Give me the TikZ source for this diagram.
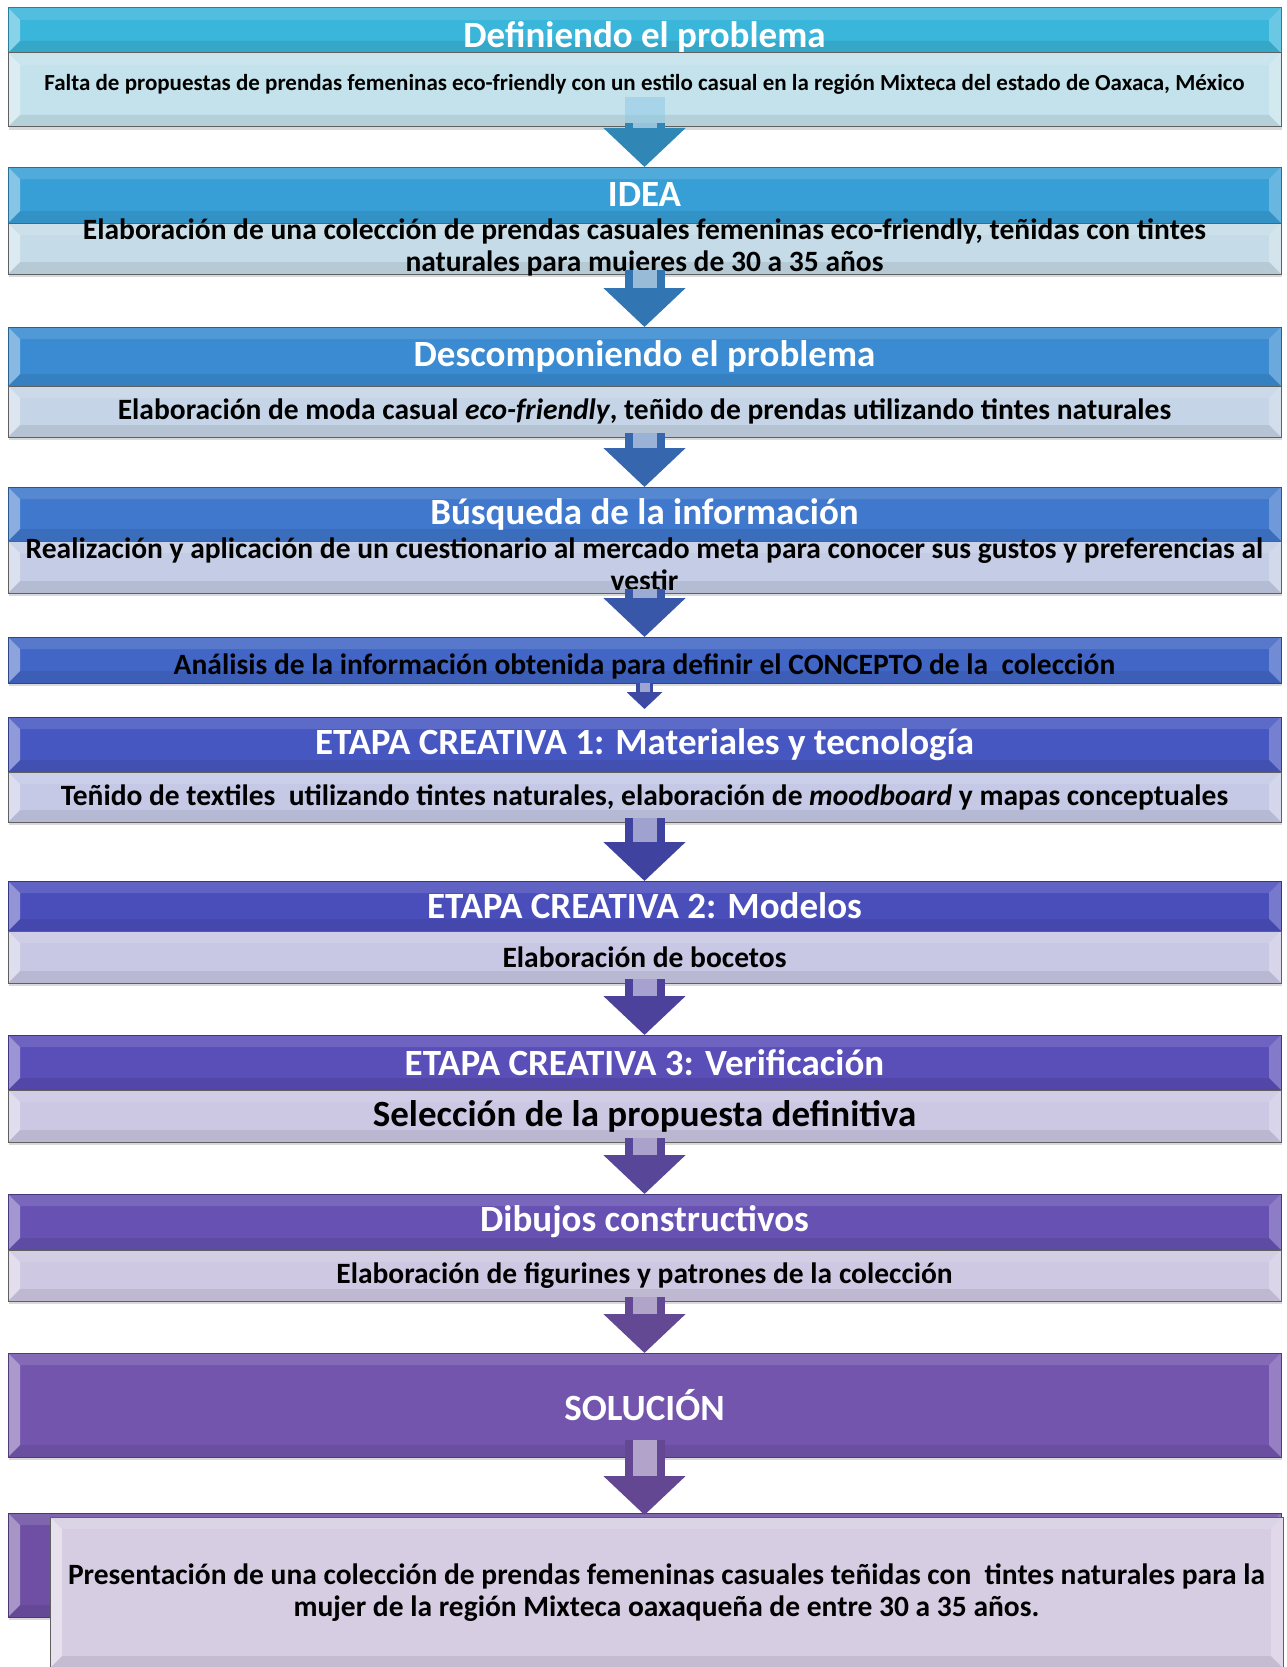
\documentclass[tikz,border=0pt]{standalone}
\usepackage{fontspec}
\setmainfont{Carlito}
\usetikzlibrary{positioning,arrows.meta,shadows}

\definecolor{tono1}{HTML}{3AB6DB}
\definecolor{tono2}{HTML}{389FD6}
\definecolor{tono3}{HTML}{3A8BD1}
\definecolor{tono4}{HTML}{3F78CC}
\definecolor{tono5}{HTML}{4266C6}
\definecolor{tono6}{HTML}{4757C1}
\definecolor{tono7}{HTML}{4A4EBB}
\definecolor{tono8}{HTML}{5A4EB8}
\definecolor{tono9}{HTML}{6752B3}
\definecolor{tono10}{HTML}{7455AE}
\definecolor{tono11}{HTML}{6E4FA3}
\definecolor{claro1}{HTML}{C4E2EC}
\definecolor{claro2}{HTML}{C5DCE8}
\definecolor{claro3}{HTML}{C5D4E6}
\definecolor{claro4}{HTML}{C4CDE5}
\definecolor{claro6}{HTML}{C6C9E6}
\definecolor{claro7}{HTML}{C9C8E4}
\definecolor{claro8}{HTML}{CCC7E3}
\definecolor{claro9}{HTML}{CFC8E2}
\definecolor{claro11}{HTML}{D7CDE3}

\tikzset{
  bisel/.style={path picture={
    \fill[white,opacity=.4] (path picture bounding box.north west) -- ([shift={(12pt,-12pt)}]path picture bounding box.north west) -- ([shift={(12pt,12pt)}]path picture bounding box.south west) -- (path picture bounding box.south west) -- cycle;
    \fill[white,opacity=.12] (path picture bounding box.north west) -- (path picture bounding box.north east) -- ([shift={(-12pt,-12pt)}]path picture bounding box.north east) -- ([shift={(12pt,-12pt)}]path picture bounding box.north west) -- cycle;
    \fill[white,opacity=.25] (path picture bounding box.north east) -- ([shift={(-12pt,-12pt)}]path picture bounding box.north east) -- ([shift={(-12pt,12pt)}]path picture bounding box.south east) -- (path picture bounding box.south east) -- cycle;
    \fill[black,opacity=.08] (path picture bounding box.south west) -- ([shift={(12pt,12pt)}]path picture bounding box.south west) -- ([shift={(-12pt,12pt)}]path picture bounding box.south east) -- (path picture bounding box.south east) -- cycle;
  }},
  cabeza/.style={rectangle, draw=#1!70!black, line width=1pt, fill=#1, bisel,
    minimum width=1273pt, inner sep=0pt, outer sep=0pt, text=white,
    font=\bfseries\fontsize{37}{42}\selectfont,
    drop shadow={shadow xshift=1pt, shadow yshift=-3pt, opacity=.3}},
  cuerpo/.style={rectangle, draw=gray!75!black, line width=1pt, fill=#1, bisel,
    minimum width=1273pt, inner sep=0pt, outer sep=0pt, text=black,
    font=\bfseries\fontsize{29.5}{32}\selectfont,
    drop shadow={shadow xshift=1pt, shadow yshift=-3pt, opacity=.3}},
  flecha/.style={line width=40pt, draw=#1, -{Triangle[width=80pt,length=39pt]},
    postaction={draw=#1!50!white, line width=24pt, -, shorten >=39pt}},
  flechita/.style={line width=17pt, draw=#1, -{Triangle[width=35pt,length=17pt]},
    postaction={draw=#1!50!white, line width=10pt, -, shorten >=17pt}}
}

\begin{document}
\begin{tikzpicture}[x=1pt, y=-1pt]
  \useasboundingbox (0,0) rectangle (1287,1667);

  \node (DEF) [cabeza=tono1, minimum height=45pt, anchor=north] at (644.5,8) {\smash{\raisebox{-17pt}{Definiendo el problema}}};
  \node (DEFt) [cuerpo=claro1, minimum height=74pt, below=0pt of DEF, font=\bfseries\fontsize{23}{27}\selectfont]
    {\raisebox{16pt}{Falta de propuestas de prendas femeninas eco-friendly con un estilo casual en la región Mixteca del estado de Oaxaca, México}};

  \node (IDEA) [cabeza=tono2, minimum height=56pt, below=40pt of DEFt] {IDEA};
  \node (IDEAt) [cuerpo=claro2, minimum height=51pt, below=0pt of IDEA]
    {\smash{\raisebox{-7pt}{\begin{tabular}{@{}c@{}}Elaboración de una colección de prendas casuales femeninas eco-friendly, teñidas con tintes\\naturales para mujeres de 30 a 35 años\end{tabular}}}};

  \node (DESC) [cabeza=tono3, minimum height=59pt, below=53pt of IDEAt] {Descomponiendo el problema};
  \node (DESCt) [cuerpo=claro3, minimum height=51pt, below=0pt of DESC]
    {Elaboración de moda casual \textit{eco-friendly}, teñido de prendas utilizando tintes naturales};

  \node (BUSQ) [cabeza=tono4, minimum height=54pt, below=50pt of DESCt] {Búsqueda de la información};
  \node (BUSQt) [cuerpo=claro4, minimum height=52pt, below=0pt of BUSQ]
    {\smash{\raisebox{-7pt}{\begin{tabular}{@{}c@{}}Realización y aplicación de un cuestionario al mercado meta para conocer sus gustos y preferencias al\\vestir\end{tabular}}}};

  \node (ANA) [cabeza=tono5, minimum height=46pt, below=44pt of BUSQt, text=black,
    font=\bfseries\fontsize{29.5}{32}\selectfont]
    {\smash{\raisebox{-14pt}{Análisis de la información obtenida para definir el CONCEPTO de la\ \ colección}}};

  \node (EC1) [cabeza=tono6, minimum height=55pt, below=34pt of ANA] {ETAPA CREATIVA 1: Materiales y tecnología};
  \node (EC1t) [cuerpo=claro6, minimum height=50pt, below=0pt of EC1]
    {Teñido de textiles\ \ utilizando tintes naturales, elaboración de \textit{moodboard} y mapas conceptuales};

  \node (EC2) [cabeza=tono7, minimum height=50pt, below=59pt of EC1t] {ETAPA CREATIVA 2: Modelos};
  \node (EC2t) [cuerpo=claro7, minimum height=52pt, below=0pt of EC2] {Elaboración de bocetos};

  \node (EC3) [cabeza=tono8, minimum height=55pt, below=52pt of EC2t] {ETAPA CREATIVA 3: Verificación};
  \node (EC3t) [cuerpo=claro8, minimum height=52pt, below=0pt of EC3,
    font=\bfseries\fontsize{37}{42}\selectfont] {Selección de la propuesta definitiva};

  \node (DIB) [cabeza=tono9, minimum height=56pt, below=52pt of EC3t] {Dibujos constructivos};
  \node (DIBt) [cuerpo=claro9, minimum height=51pt, below=0pt of DIB]
    {Elaboración de figurines y patrones de la colección};

  \node (SOL) [cabeza=tono10, minimum height=104pt, below=52pt of DIBt] {SOLUCIÓN};

  \node (PRES) [cabeza=tono11, minimum height=104pt, below=56pt of SOL] {};
  \node (PRESt) [cuerpo=claro11, minimum width=1233pt, minimum height=151pt, anchor=north west,
    align=center] at ([shift={(42pt,-4pt)}]PRES.north west)
    {Presentación de una colección de prendas femeninas casuales teñidas con\ \ tintes naturales para la\\
     mujer de la región Mixteca oaxaqueña de entre 30 a 35 años.};

  % flechas entre etapas
  \draw[line width=40pt, draw=tono2!60!white, opacity=.45] ([yshift=30pt]DEFt.south) -- ([yshift=4pt]DEFt.south);
  \draw[flecha=tono2!85!black] ([yshift=4pt]DEFt.south) -- (IDEA.north);
  \draw[flecha=tono3!85!black] ([yshift=4pt]IDEAt.south) -- (DESC.north);
  \draw[flecha=tono4!85!black] ([yshift=4pt]DESCt.south) -- (BUSQ.north);
  \draw[flecha=tono5!85!black] ([yshift=4pt]BUSQt.south) -- (ANA.north);
  \draw[flechita=tono6!85!black] (ANA.south) -- ([yshift=8pt]EC1.north);
  \draw[flecha=tono7!85!black] ([yshift=4pt]EC1t.south) -- (EC2.north);
  \draw[flecha=tono8!85!black] ([yshift=4pt]EC2t.south) -- (EC3.north);
  \draw[flecha=tono9!85!black] ([yshift=4pt]EC3t.south) -- (DIB.north);
  \draw[flecha=tono10!85!black] ([yshift=4pt]DIBt.south) -- (SOL.north);
  \draw[flecha=tono11!90!black] ([yshift=17pt]SOL.south) -- ([yshift=-2pt]PRES.north);
\end{tikzpicture}
\end{document}
